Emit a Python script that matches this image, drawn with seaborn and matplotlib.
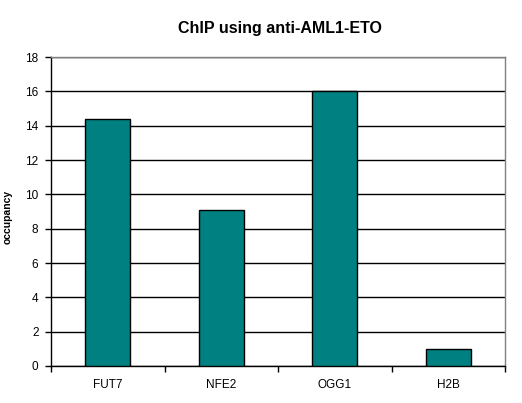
import matplotlib
matplotlib.use("Agg")
import matplotlib.pyplot as plt
import seaborn as sns
import pandas as pd
import numpy as np

categories = ["FUT7", "NFE2", "OGG1", "H2B"]
occupancy = [14.4, 9.1, 16.0, 1.0]
y_ticks = [0, 2, 4, 6, 8, 10, 12, 14, 16, 18]

sns.set_style("white")
plt.rcParams['font.family'] = ['Liberation Sans', 'DejaVu Sans']
plt.rcParams['text.color'] = 'black'
plt.rcParams['xtick.color'] = 'black'
plt.rcParams['ytick.color'] = 'black'
plt.rcParams['axes.labelcolor'] = 'black'

df = pd.DataFrame({"gene": categories, "occupancy": occupancy})

fig = plt.figure(figsize=(5.22, 4.03), dpi=100)
ax = fig.add_axes([51/522, 37/403, (505-51)/522, (366-57)/403])

sns.barplot(data=df, x="gene", y="occupancy", color="#008080", width=0.4,
            edgecolor="black", linewidth=1.0, saturation=1, ax=ax, zorder=3)

ax.set_ylim(0, 18)
ax.set_xlim(-0.5, 3.5)
ax.set_yticks(y_ticks)
ax.set_yticklabels([str(t) for t in y_ticks], fontsize=8.5)
ax.yaxis.grid(True, color="black", linewidth=1.0, zorder=0)
ax.set_axisbelow(True)

ax.set_xticks(range(len(categories)))
ax.set_xticklabels(categories, fontsize=8.5)
ax.tick_params(axis="x", which="major", length=0, pad=9)
ax.set_xticks(np.arange(-0.5, len(categories)), minor=True)
ax.tick_params(axis="x", which="minor", length=4, width=1, color="black", direction="out", bottom=True)
ax.tick_params(axis="y", length=4, width=1, color="black", direction="out", left=True, pad=5)

for side in ["left", "bottom"]:
    ax.spines[side].set_color("black")
    ax.spines[side].set_linewidth(1.0)
for side in ["top", "right"]:
    ax.spines[side].set_color("#808080")
    ax.spines[side].set_linewidth(1.0)

ax.set_xlabel("")
ax.set_ylabel("occupancy", fontsize=7.5, fontweight="bold")
ax.yaxis.set_label_coords((13 - 51) / 454, (366 - 217) / 309)
fig.text(280/522, 1 - 29/403, "ChIP using anti-AML1-ETO", ha="center", va="center",
         fontsize=11.5, fontweight="bold")

fig.savefig("out.png", dpi=100)
